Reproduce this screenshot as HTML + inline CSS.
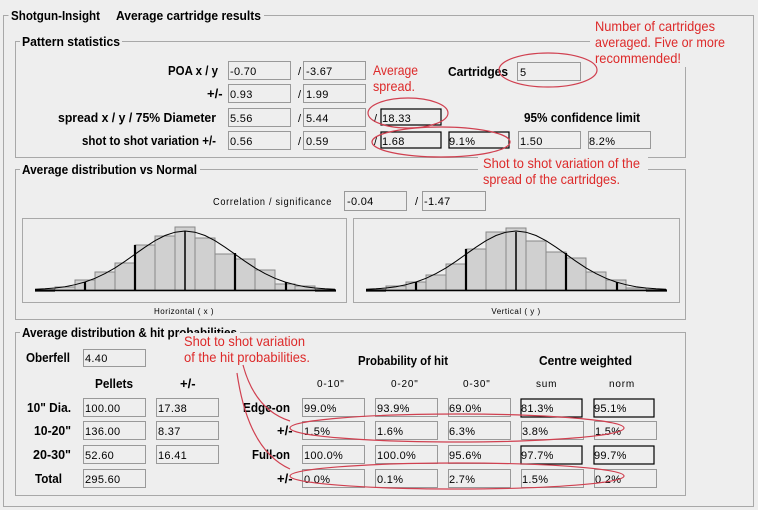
<!DOCTYPE html>
<html><head><meta charset="utf-8"><style>
html,body{margin:0;padding:0;background:#eeeeee;}
svg{display:block;font-family:"Liberation Sans",Arial,sans-serif;}
.b{font-weight:bold;font-size:13px;fill:#000;}
.v{font-size:11px;fill:#000;letter-spacing:0.3px;}
.s{font-size:10px;fill:#000;letter-spacing:0.8px;}
.r{font-size:14px;fill:#dd2a2a;}
.f{fill:#eeeeee;stroke:#999;stroke-width:1;}
.k{fill:#eeeeee;stroke:#000;stroke-width:1.2;}
.g{fill:none;stroke:#a8a8a8;stroke-width:1;}
.bar{fill:#d0d0d0;stroke:#888;stroke-width:1;}
.th{stroke:#000;stroke-width:2.2;}
.el{fill:none;stroke:#d04050;stroke-width:1.2;}
</style></head><body>
<svg width="758" height="510" viewBox="0 0 758 510" xmlns="http://www.w3.org/2000/svg">
<rect width="758" height="510" fill="#eeeeee"/>
<!-- outer frame -->
<path class="g" d="M8.5 15.5 H3.5 V506.5 H753.5 V15.5 H264"/>
<text class="b" x="11" y="20" textLength="89" lengthAdjust="spacingAndGlyphs">Shotgun-Insight</text>
<text class="b" x="116" y="20" textLength="145" lengthAdjust="spacingAndGlyphs">Average cartridge results</text>

<!-- group 1 -->
<path class="g" d="M20 41.5 H15.5 V157.5 H685.5 V41.5 H122"/>
<text class="b" x="22" y="46" textLength="98" lengthAdjust="spacingAndGlyphs">Pattern statistics</text>
<text class="b" x="168" y="75" textLength="50" lengthAdjust="spacingAndGlyphs">POA x / y</text>
<text class="b" x="207" y="98">+/-</text>
<text class="b" x="58" y="122" textLength="158" lengthAdjust="spacingAndGlyphs">spread x / y / 75% Diameter</text>
<text class="b" x="82" y="145" textLength="134" lengthAdjust="spacingAndGlyphs">shot to shot variation +/-</text>
<rect class="f" x="228.5" y="61.5" width="62" height="18"/><text class="v" x="230" y="75">-0.70</text>
<text class="v" x="298" y="75">/</text>
<rect class="f" x="303.5" y="61.5" width="62" height="18"/><text class="v" x="306" y="75">-3.67</text>
<rect class="f" x="228.5" y="84.5" width="62" height="18"/><text class="v" x="230" y="98">0.93</text>
<text class="v" x="298" y="98">/</text>
<rect class="f" x="303.5" y="84.5" width="62" height="18"/><text class="v" x="306" y="98">1.99</text>
<rect class="f" x="228.5" y="108.5" width="62" height="18"/><text class="v" x="230" y="122">5.56</text>
<text class="v" x="298" y="122">/</text>
<rect class="f" x="303.5" y="108.5" width="62" height="18"/><text class="v" x="306" y="122">5.44</text>
<rect class="f" x="228.5" y="131.5" width="62" height="18"/><text class="v" x="230" y="145">0.56</text>
<text class="v" x="298" y="145">/</text>
<rect class="f" x="303.5" y="131.5" width="62" height="18"/><text class="v" x="306" y="145">0.59</text>
<text class="v" x="374" y="122">/</text>
<rect class="k" x="381" y="109" width="60" height="16"/><text class="v" x="382" y="122">18.33</text>
<text class="v" x="374" y="145">/</text>
<rect class="k" x="381" y="132" width="60" height="16"/><text class="v" x="382" y="145">1.68</text>
<rect class="k" x="449" y="132" width="60" height="16"/><text class="v" x="449" y="145">9.1%</text>
<rect class="f" x="518.5" y="131.5" width="62" height="17"/><text class="v" x="520" y="145">1.50</text>
<rect class="f" x="588.5" y="131.5" width="62" height="17"/><text class="v" x="589" y="145">8.2%</text>
<text class="b" x="448" y="76" textLength="60" lengthAdjust="spacingAndGlyphs">Cartridges</text>
<rect class="f" x="517.5" y="62.5" width="63" height="18"/><text class="v" x="520" y="76">5</text>
<text class="b" x="524" y="122" textLength="116" lengthAdjust="spacingAndGlyphs">95% confidence limit</text>

<!-- group 2 -->
<path class="g" d="M20 169.5 H15.5 V319.5 H685.5 V169.5 H200"/>
<text class="b" x="22" y="174" textLength="175" lengthAdjust="spacingAndGlyphs">Average distribution vs Normal</text>
<text class="s" x="213" y="205" textLength="119" lengthAdjust="spacingAndGlyphs">Correlation / significance</text>
<rect class="f" x="344.5" y="191.5" width="62" height="19"/><text class="v" x="347" y="205">-0.04</text>
<text class="v" x="415" y="205">/</text>
<rect class="f" x="422.5" y="191.5" width="63" height="19"/><text class="v" x="424" y="205">-1.47</text>
<rect class="g" x="22.5" y="218.5" width="324" height="84"/>
<rect class="g" x="353.5" y="218.5" width="326" height="84"/>
<text x="184" y="314" font-size="8" text-anchor="middle" fill="#000" letter-spacing="0.5">Horizontal ( x )</text>
<text x="516" y="314" font-size="8" text-anchor="middle" fill="#000" letter-spacing="0.5">Vertical ( y )</text>
<!-- left histogram -->
<g>
<rect class="bar" x="55" y="287" width="20" height="3"/>
<rect class="bar" x="75" y="280" width="20" height="10"/>
<rect class="bar" x="95" y="272" width="20" height="18"/>
<rect class="bar" x="115" y="263" width="20" height="27"/>
<rect class="bar" x="135" y="245" width="20" height="45"/>
<rect class="bar" x="155" y="236" width="20" height="54"/>
<rect class="bar" x="175" y="227" width="20" height="63"/>
<rect class="bar" x="195" y="238" width="20" height="52"/>
<rect class="bar" x="215" y="254" width="20" height="36"/>
<rect class="bar" x="235" y="259" width="20" height="31"/>
<rect class="bar" x="255" y="270" width="20" height="20"/>
<rect class="bar" x="275" y="284" width="20" height="6"/>
<rect class="bar" x="295" y="286" width="20" height="4"/>
<line x1="35" y1="290.5" x2="336" y2="290.5" stroke="#000" stroke-width="1.5"/>
<line x1="35" y1="290.5" x2="55" y2="290.5" class="th"/>
<line x1="315" y1="290.5" x2="336" y2="290.5" class="th"/>
<line x1="85" y1="290" x2="85" y2="282" class="th"/>
<line x1="135" y1="290" x2="135" y2="245" class="th"/>
<line x1="185" y1="290" x2="185" y2="231" stroke="#000" stroke-width="1.5"/>
<line x1="235" y1="290" x2="235" y2="253" class="th"/>
<line x1="286" y1="290" x2="286" y2="282" class="th"/>
<polyline fill="none" stroke="#000" stroke-width="1" points="35,289.3 45,288.8 55,288 65,286.7 75,284.7 85,282 95,278.3 105,273.6 115,267.9 125,261.3 135,254.2 145,247.2 155,240.7 165,235.5 175,232.2 185,231 195,232.2 205,235.5 215,240.7 225,247.2 235,254.2 245,261.3 255,267.9 265,273.6 275,278.3 285,282 295,284.7 305,286.7 315,288 325,288.8 335,289.3"/>
</g>
<!-- right histogram -->
<g>
<rect class="bar" x="386" y="286" width="20" height="4"/>
<rect class="bar" x="406" y="282" width="20" height="8"/>
<rect class="bar" x="426" y="275" width="20" height="15"/>
<rect class="bar" x="446" y="264" width="20" height="26"/>
<rect class="bar" x="466" y="249" width="20" height="41"/>
<rect class="bar" x="486" y="232" width="20" height="58"/>
<rect class="bar" x="506" y="228" width="20" height="62"/>
<rect class="bar" x="526" y="241" width="20" height="49"/>
<rect class="bar" x="546" y="252" width="20" height="38"/>
<rect class="bar" x="566" y="258" width="20" height="32"/>
<rect class="bar" x="586" y="272" width="20" height="18"/>
<rect class="bar" x="606" y="280" width="20" height="10"/>
<rect class="bar" x="626" y="288" width="20" height="2"/>
<line x1="366" y1="290.5" x2="667" y2="290.5" stroke="#000" stroke-width="1.5"/>
<line x1="366" y1="290.5" x2="386" y2="290.5" class="th"/>
<line x1="646" y1="290.5" x2="667" y2="290.5" class="th"/>
<line x1="416" y1="290" x2="416" y2="282" class="th"/>
<line x1="466" y1="290" x2="466" y2="249" class="th"/>
<line x1="516" y1="290" x2="516" y2="232" stroke="#000" stroke-width="1.5"/>
<line x1="566" y1="290" x2="566" y2="253" class="th"/>
<line x1="617" y1="290" x2="617" y2="282" class="th"/>
<polyline fill="none" stroke="#000" stroke-width="1" points="366,289.3 376,288.8 386,288 396,286.7 406,284.7 416,282 426,278.3 436,273.6 446,267.9 456,261.3 466,254.2 476,247.2 486,240.7 496,235.5 506,232.2 516,231 526,232.2 536,235.5 546,240.7 556,247.2 566,254.2 576,261.3 586,267.9 596,273.6 606,278.3 616,282 626,284.7 636,286.7 646,288 656,288.8 666,289.3"/>
</g>

<!-- group 3 -->
<path class="g" d="M20 332.5 H15.5 V495.5 H685.5 V332.5 H240"/>
<text class="b" x="22" y="337" textLength="215" lengthAdjust="spacingAndGlyphs">Average distribution &amp; hit probabilities</text>
<text class="b" x="26" y="362" textLength="44" lengthAdjust="spacingAndGlyphs">Oberfell</text>
<rect class="f" x="83.5" y="349.5" width="62" height="17"/><text class="v" x="85" y="362">4.40</text>
<text class="b" x="95" y="388" textLength="38" lengthAdjust="spacingAndGlyphs">Pellets</text>
<text class="b" x="180" y="388" font-weight="normal">+/-</text>
<text class="b" x="27" y="412" textLength="44" lengthAdjust="spacingAndGlyphs">10" Dia.</text>
<text class="b" x="34" y="435" textLength="37" lengthAdjust="spacingAndGlyphs">10-20"</text>
<text class="b" x="33" y="459" textLength="38" lengthAdjust="spacingAndGlyphs">20-30"</text>
<text class="b" x="35" y="483" textLength="27" lengthAdjust="spacingAndGlyphs">Total</text>
<rect class="f" x="83.5" y="398.5" width="62" height="18"/><text class="v" x="85" y="412">100.00</text>
<rect class="f" x="156.5" y="398.5" width="62" height="18"/><text class="v" x="158" y="412">17.38</text>
<rect class="f" x="83.5" y="421.5" width="62" height="18"/><text class="v" x="85" y="435">136.00</text>
<rect class="f" x="156.5" y="421.5" width="62" height="18"/><text class="v" x="158" y="435">8.37</text>
<rect class="f" x="83.5" y="445.5" width="62" height="18"/><text class="v" x="85" y="459">52.60</text>
<rect class="f" x="156.5" y="445.5" width="62" height="18"/><text class="v" x="158" y="459">16.41</text>
<rect class="f" x="83.5" y="469.5" width="62" height="18"/><text class="v" x="85" y="483">295.60</text>

<text class="b" x="358" y="365" textLength="90" lengthAdjust="spacingAndGlyphs">Probability of hit</text>
<text class="b" x="539" y="365" textLength="93" lengthAdjust="spacingAndGlyphs">Centre weighted</text>
<text class="s" x="317" y="387">0-10"</text>
<text class="s" x="391" y="387">0-20"</text>
<text class="s" x="463" y="387">0-30"</text>
<text class="s" x="536" y="387">sum</text>
<text class="s" x="609" y="387">norm</text>
<text class="b" x="243" y="412" textLength="47" lengthAdjust="spacingAndGlyphs">Edge-on</text>
<text class="b" x="277" y="435">+/-</text>
<text class="b" x="252" y="459" textLength="38" lengthAdjust="spacingAndGlyphs">Full-on</text>
<text class="b" x="277" y="483">+/-</text>
<g>
<rect class="f" x="302.5" y="398.5" width="62" height="18"/><text class="v" x="304" y="412">99.0%</text>
<rect class="f" x="375.5" y="398.5" width="62" height="18"/><text class="v" x="377" y="412">93.9%</text>
<rect class="f" x="448.5" y="398.5" width="62" height="18"/><text class="v" x="449" y="412">69.0%</text>
<rect class="k" x="521" y="399" width="61" height="18"/><text class="v" x="521" y="412">81.3%</text>
<rect class="k" x="594" y="399" width="60" height="18"/><text class="v" x="594" y="412">95.1%</text>
<rect class="f" x="302.5" y="421.5" width="62" height="18"/><text class="v" x="304" y="435">1.5%</text>
<rect class="f" x="375.5" y="421.5" width="62" height="18"/><text class="v" x="377" y="435">1.6%</text>
<rect class="f" x="448.5" y="421.5" width="62" height="18"/><text class="v" x="449" y="435">6.3%</text>
<rect class="f" x="521.5" y="421.5" width="62" height="18"/><text class="v" x="522" y="435">3.8%</text>
<rect class="f" x="594.5" y="421.5" width="62" height="18"/><text class="v" x="595" y="435">1.5%</text>
<rect class="f" x="302.5" y="445.5" width="62" height="18"/><text class="v" x="304" y="459">100.0%</text>
<rect class="f" x="375.5" y="445.5" width="62" height="18"/><text class="v" x="377" y="459">100.0%</text>
<rect class="f" x="448.5" y="445.5" width="62" height="18"/><text class="v" x="449" y="459">95.6%</text>
<rect class="k" x="521" y="446" width="61" height="18"/><text class="v" x="521" y="459">97.7%</text>
<rect class="k" x="594" y="446" width="60" height="18"/><text class="v" x="594" y="459">99.7%</text>
<rect class="f" x="302.5" y="469.5" width="62" height="18"/><text class="v" x="304" y="483">0.0%</text>
<rect class="f" x="375.5" y="469.5" width="62" height="18"/><text class="v" x="377" y="483">0.1%</text>
<rect class="f" x="448.5" y="469.5" width="62" height="18"/><text class="v" x="449" y="483">2.7%</text>
<rect class="f" x="521.5" y="469.5" width="62" height="18"/><text class="v" x="522" y="483">1.5%</text>
<rect class="f" x="594.5" y="469.5" width="62" height="18"/><text class="v" x="595" y="483">0.2%</text>
</g>

<!-- annotations -->
<rect x="590" y="17" width="150" height="50" fill="#eeeeee"/>
<text class="r" x="595" y="31" textLength="120" lengthAdjust="spacingAndGlyphs">Number of cartridges</text>
<text class="r" x="595" y="47" textLength="130" lengthAdjust="spacingAndGlyphs">averaged. Five or more</text>
<text class="r" x="595" y="63" textLength="86" lengthAdjust="spacingAndGlyphs">recommended!</text>
<text class="r" x="373" y="75" textLength="45" lengthAdjust="spacingAndGlyphs">Average</text>
<text class="r" x="373" y="91" textLength="42" lengthAdjust="spacingAndGlyphs">spread.</text>
<rect x="478" y="155" width="170" height="34" fill="#eeeeee"/>
<text class="r" x="483" y="168" textLength="157" lengthAdjust="spacingAndGlyphs">Shot to shot variation of the</text>
<text class="r" x="483" y="184" textLength="137" lengthAdjust="spacingAndGlyphs">spread of the cartridges.</text>
<rect x="180" y="333" width="135" height="32" fill="#eeeeee"/>
<text class="r" x="184" y="346" textLength="121" lengthAdjust="spacingAndGlyphs">Shot to shot variation</text>
<text class="r" x="184" y="362" textLength="126" lengthAdjust="spacingAndGlyphs">of the hit probabilities.</text>
<ellipse class="el" cx="548" cy="70" rx="49" ry="17"/>
<ellipse class="el" cx="408" cy="113" rx="40" ry="15"/>
<ellipse class="el" cx="441" cy="142" rx="69" ry="15"/>
<ellipse class="el" cx="457" cy="428" rx="167" ry="14"/>
<ellipse class="el" cx="457" cy="476" rx="167" ry="13"/>
<path class="el" d="M243 365 Q255 410 290 421"/>
<path class="el" d="M237 373 Q248 450 290 469"/>
</svg>
</body></html>
